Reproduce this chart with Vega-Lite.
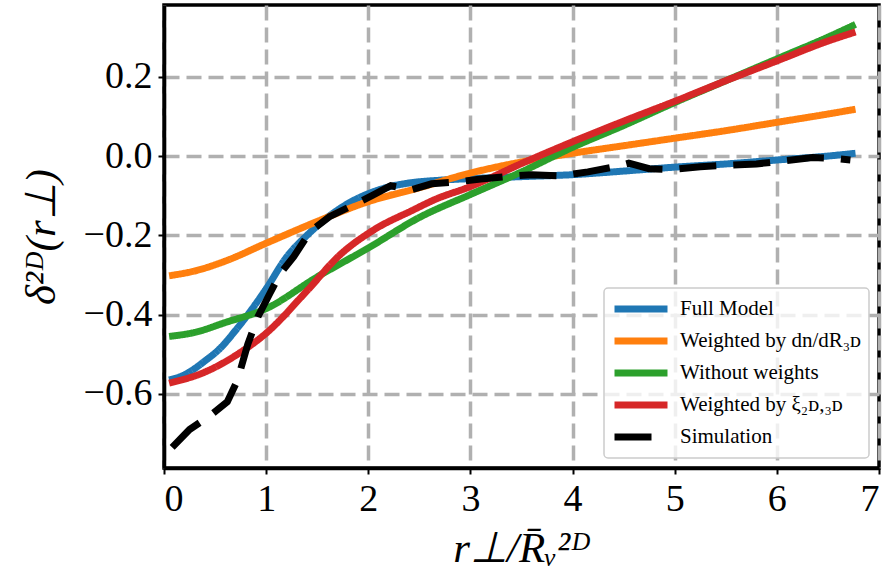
{
  "$schema": "https://vega.github.io/schema/vega-lite/v6.json",
  "width": 715,
  "height": 463,
  "autosize": "none",
  "padding": {"left": 164, "top": 5, "right": 7, "bottom": 115},
  "background": "white",
  "config": {
    "font": "Liberation Serif",
    "view": {"stroke": "black", "strokeWidth": 3.5},
    "axis": {
      "labelFont": "Liberation Serif",
      "labelFontSize": 38,
      "labelColor": "black",
      "titleFont": "Liberation Serif",
      "titleFontSize": 43,
      "titleFontWeight": "normal",
      "titleFontStyle": "italic",
      "titleColor": "black",
      "domainColor": "black",
      "domainWidth": 3.5,
      "tickColor": "black",
      "tickWidth": 2,
      "tickSize": 6,
      "labelPadding": 6,
      "grid": true,
      "gridColor": "#b0b0b0",
      "gridWidth": 3.5,
      "gridDash": [15, 7]
    },
    "legend": {
      "orient": "bottom-right",
      "offset": 10,
      "padding": 7,
      "fillColor": "rgba(255,255,255,0.8)",
      "strokeColor": "#cccccc",
      "strokeWidth": 1.5,
      "cornerRadius": 4,
      "labelFont": "Liberation Serif",
      "labelFontSize": 21,
      "labelColor": "black",
      "labelLimit": 400,
      "labelOffset": 9,
      "symbolType": "stroke",
      "symbolStrokeWidth": 7,
      "symbolSize": 2809,
      "symbolOpacity": 1,
      "clipHeight": 28,
      "rowPadding": 4,
      "title": null
    }
  },
  "datasets": {
    "models": [
      {"series": "Full Model", "r": 0.05, "delta": -0.565},
      {"series": "Full Model", "r": 0.2, "delta": -0.552},
      {"series": "Full Model", "r": 0.4, "delta": -0.517},
      {"series": "Full Model", "r": 0.55, "delta": -0.485},
      {"series": "Full Model", "r": 0.7, "delta": -0.44},
      {"series": "Full Model", "r": 0.85, "delta": -0.39},
      {"series": "Full Model", "r": 1.0, "delta": -0.335},
      {"series": "Full Model", "r": 1.2, "delta": -0.255},
      {"series": "Full Model", "r": 1.4, "delta": -0.2},
      {"series": "Full Model", "r": 1.6, "delta": -0.155},
      {"series": "Full Model", "r": 1.8, "delta": -0.12},
      {"series": "Full Model", "r": 2.0, "delta": -0.095},
      {"series": "Full Model", "r": 2.2, "delta": -0.078},
      {"series": "Full Model", "r": 2.4, "delta": -0.068},
      {"series": "Full Model", "r": 2.7, "delta": -0.061},
      {"series": "Full Model", "r": 3.0, "delta": -0.057},
      {"series": "Full Model", "r": 3.5, "delta": -0.052},
      {"series": "Full Model", "r": 4.0, "delta": -0.047},
      {"series": "Full Model", "r": 4.5, "delta": -0.038},
      {"series": "Full Model", "r": 5.0, "delta": -0.028},
      {"series": "Full Model", "r": 5.5, "delta": -0.02},
      {"series": "Full Model", "r": 6.0, "delta": -0.01},
      {"series": "Full Model", "r": 6.5, "delta": 0.0},
      {"series": "Full Model", "r": 6.77, "delta": 0.007},

      {"series": "Weighted by dn/dR₃ᴅ", "r": 0.05, "delta": -0.302},
      {"series": "Weighted by dn/dR₃ᴅ", "r": 0.3, "delta": -0.29},
      {"series": "Weighted by dn/dR₃ᴅ", "r": 0.6, "delta": -0.265},
      {"series": "Weighted by dn/dR₃ᴅ", "r": 1.0, "delta": -0.22},
      {"series": "Weighted by dn/dR₃ᴅ", "r": 1.5, "delta": -0.165},
      {"series": "Weighted by dn/dR₃ᴅ", "r": 2.0, "delta": -0.115},
      {"series": "Weighted by dn/dR₃ᴅ", "r": 2.5, "delta": -0.08},
      {"series": "Weighted by dn/dR₃ᴅ", "r": 3.0, "delta": -0.043},
      {"series": "Weighted by dn/dR₃ᴅ", "r": 3.5, "delta": -0.015},
      {"series": "Weighted by dn/dR₃ᴅ", "r": 4.0, "delta": 0.007},
      {"series": "Weighted by dn/dR₃ᴅ", "r": 4.5, "delta": 0.026},
      {"series": "Weighted by dn/dR₃ᴅ", "r": 5.0, "delta": 0.045},
      {"series": "Weighted by dn/dR₃ᴅ", "r": 5.5, "delta": 0.064},
      {"series": "Weighted by dn/dR₃ᴅ", "r": 6.0, "delta": 0.085},
      {"series": "Weighted by dn/dR₃ᴅ", "r": 6.5, "delta": 0.106},
      {"series": "Weighted by dn/dR₃ᴅ", "r": 6.77, "delta": 0.118},

      {"series": "Without weights", "r": 0.05, "delta": -0.455},
      {"series": "Without weights", "r": 0.3, "delta": -0.445},
      {"series": "Without weights", "r": 0.6, "delta": -0.42},
      {"series": "Without weights", "r": 1.0, "delta": -0.385},
      {"series": "Without weights", "r": 1.5, "delta": -0.305},
      {"series": "Without weights", "r": 2.0, "delta": -0.232},
      {"series": "Without weights", "r": 2.5, "delta": -0.155},
      {"series": "Without weights", "r": 3.0, "delta": -0.097},
      {"series": "Without weights", "r": 3.5, "delta": -0.04},
      {"series": "Without weights", "r": 4.0, "delta": 0.022},
      {"series": "Without weights", "r": 4.5, "delta": 0.077},
      {"series": "Without weights", "r": 5.0, "delta": 0.135},
      {"series": "Without weights", "r": 5.5, "delta": 0.19},
      {"series": "Without weights", "r": 6.0, "delta": 0.245},
      {"series": "Without weights", "r": 6.5, "delta": 0.3},
      {"series": "Without weights", "r": 6.77, "delta": 0.332},

      {"series": "Weighted by ξ₂ᴅ,₃ᴅ", "r": 0.05, "delta": -0.573},
      {"series": "Weighted by ξ₂ᴅ,₃ᴅ", "r": 0.4, "delta": -0.545},
      {"series": "Weighted by ξ₂ᴅ,₃ᴅ", "r": 0.75, "delta": -0.495},
      {"series": "Weighted by ξ₂ᴅ,₃ᴅ", "r": 1.0, "delta": -0.447},
      {"series": "Weighted by ξ₂ᴅ,₃ᴅ", "r": 1.4, "delta": -0.34},
      {"series": "Weighted by ξ₂ᴅ,₃ᴅ", "r": 1.72, "delta": -0.25},
      {"series": "Weighted by ξ₂ᴅ,₃ᴅ", "r": 2.05, "delta": -0.187},
      {"series": "Weighted by ξ₂ᴅ,₃ᴅ", "r": 2.44, "delta": -0.136},
      {"series": "Weighted by ξ₂ᴅ,₃ᴅ", "r": 2.65, "delta": -0.11},
      {"series": "Weighted by ξ₂ᴅ,₃ᴅ", "r": 3.0, "delta": -0.077},
      {"series": "Weighted by ξ₂ᴅ,₃ᴅ", "r": 3.5, "delta": -0.019},
      {"series": "Weighted by ξ₂ᴅ,₃ᴅ", "r": 4.0, "delta": 0.036},
      {"series": "Weighted by ξ₂ᴅ,₃ᴅ", "r": 4.5, "delta": 0.088},
      {"series": "Weighted by ξ₂ᴅ,₃ᴅ", "r": 5.0, "delta": 0.138},
      {"series": "Weighted by ξ₂ᴅ,₃ᴅ", "r": 5.5, "delta": 0.19},
      {"series": "Weighted by ξ₂ᴅ,₃ᴅ", "r": 6.0, "delta": 0.24},
      {"series": "Weighted by ξ₂ᴅ,₃ᴅ", "r": 6.5, "delta": 0.29},
      {"series": "Weighted by ξ₂ᴅ,₃ᴅ", "r": 6.77, "delta": 0.313}
    ],
    "simulation": [
      {"series": "Simulation", "r": 0.08, "delta": -0.735},
      {"series": "Simulation", "r": 0.25, "delta": -0.69},
      {"series": "Simulation", "r": 0.45, "delta": -0.655},
      {"series": "Simulation", "r": 0.62, "delta": -0.62},
      {"series": "Simulation", "r": 0.72, "delta": -0.565},
      {"series": "Simulation", "r": 0.82, "delta": -0.475},
      {"series": "Simulation", "r": 0.92, "delta": -0.405},
      {"series": "Simulation", "r": 1.03, "delta": -0.35},
      {"series": "Simulation", "r": 1.14, "delta": -0.296},
      {"series": "Simulation", "r": 1.27, "delta": -0.254},
      {"series": "Simulation", "r": 1.43, "delta": -0.191},
      {"series": "Simulation", "r": 1.62, "delta": -0.153},
      {"series": "Simulation", "r": 1.85, "delta": -0.124},
      {"series": "Simulation", "r": 2.05, "delta": -0.098},
      {"series": "Simulation", "r": 2.22, "delta": -0.075},
      {"series": "Simulation", "r": 2.42, "delta": -0.085},
      {"series": "Simulation", "r": 2.62, "delta": -0.07},
      {"series": "Simulation", "r": 2.85, "delta": -0.066},
      {"series": "Simulation", "r": 3.1, "delta": -0.058},
      {"series": "Simulation", "r": 3.34, "delta": -0.052},
      {"series": "Simulation", "r": 3.6, "delta": -0.047},
      {"series": "Simulation", "r": 3.89, "delta": -0.05},
      {"series": "Simulation", "r": 4.15, "delta": -0.04},
      {"series": "Simulation", "r": 4.4, "delta": -0.028},
      {"series": "Simulation", "r": 4.55, "delta": -0.018},
      {"series": "Simulation", "r": 4.75, "delta": -0.032},
      {"series": "Simulation", "r": 4.97, "delta": -0.034},
      {"series": "Simulation", "r": 5.25, "delta": -0.027},
      {"series": "Simulation", "r": 5.52, "delta": -0.023},
      {"series": "Simulation", "r": 5.8, "delta": -0.02},
      {"series": "Simulation", "r": 6.08, "delta": -0.012},
      {"series": "Simulation", "r": 6.35, "delta": -0.004},
      {"series": "Simulation", "r": 6.57, "delta": -0.006},
      {"series": "Simulation", "r": 6.72, "delta": -0.01}
    ]
  },
  "encoding": {
    "x": {
      "field": "r",
      "type": "quantitative",
      "scale": {"domain": [0, 7], "nice": false, "zero": false},
      "axis": {
        "title": "r⊥/R̄ᵥ²ᴰ",
        "values": [0, 1, 2, 3, 4, 5, 6, 7],
        "format": "d",
        "titlePadding": 9
      }
    },
    "y": {
      "field": "delta",
      "type": "quantitative",
      "scale": {"domain": [-0.787, 0.381], "nice": false, "zero": false},
      "axis": {
        "title": "δ²ᴰ(r⊥)",
        "values": [-0.6, -0.4, -0.2, 0, 0.2],
        "format": ".1f",
        "titlePadding": 20
      }
    },
    "color": {
      "field": "series",
      "type": "nominal",
      "scale": {
        "domain": ["Full Model", "Weighted by dn/dR₃ᴅ", "Without weights", "Weighted by ξ₂ᴅ,₃ᴅ", "Simulation"],
        "range": ["#1f77b4", "#ff7f0e", "#2ca02c", "#d62728", "#000000"]
      },
      "legend": {"title": null, "labelFont": "Liberation Serif", "labelFontSize": 21}
    },
    "strokeDash": {
      "field": "series",
      "type": "nominal",
      "scale": {
        "domain": ["Full Model", "Weighted by dn/dR₃ᴅ", "Without weights", "Weighted by ξ₂ᴅ,₃ᴅ", "Simulation"],
        "range": [[1, 0], [1, 0], [1, 0], [1, 0], [37, 17]]
      },
      "legend": {"title": null, "labelFont": "Liberation Serif", "labelFontSize": 21}
    }
  },
  "layer": [
    {
      "data": {"name": "models"},
      "mark": {"type": "line", "strokeWidth": 7, "interpolate": "monotone", "strokeCap": "butt", "clip": true}
    },
    {
      "data": {"name": "simulation"},
      "mark": {"type": "line", "strokeWidth": 7, "strokeCap": "butt", "clip": true}
    }
  ]
}
